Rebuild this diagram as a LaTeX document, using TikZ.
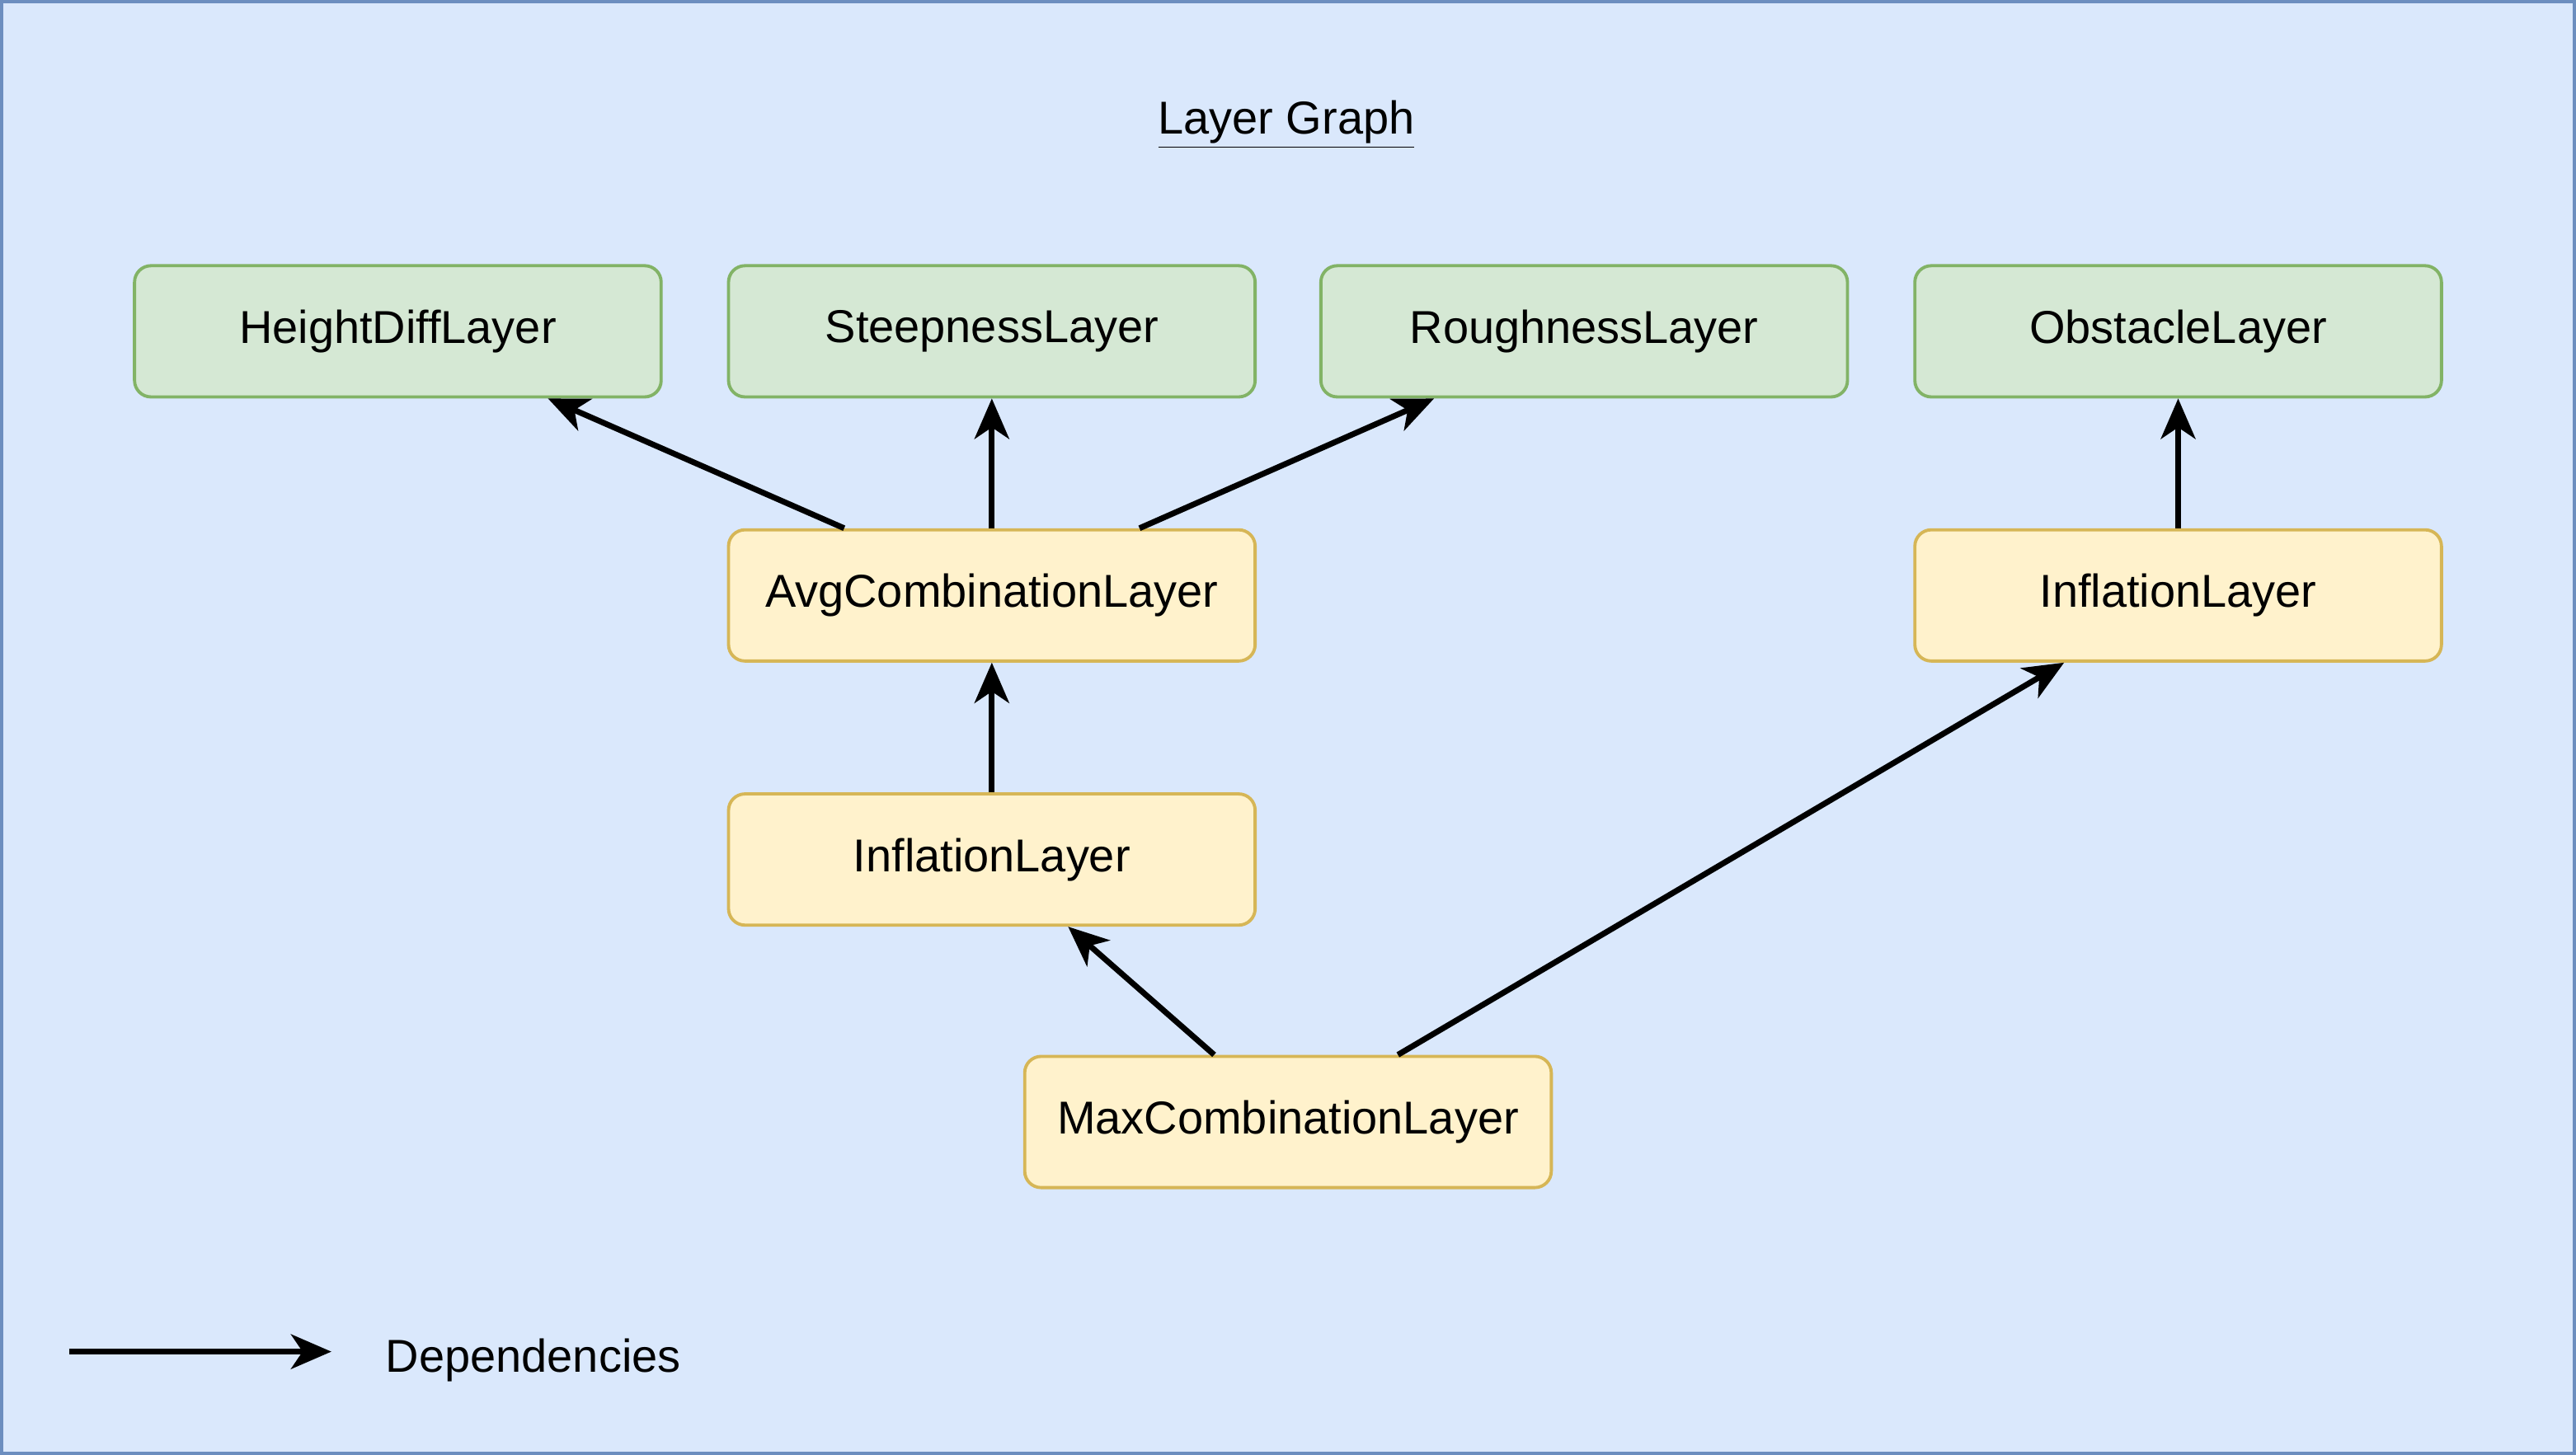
\documentclass[tikz,border=0pt]{standalone}
\usepackage{fontspec}
\setmainfont{Liberation Sans}
\usetikzlibrary{arrows.meta,calc}
\definecolor{bgfill}{HTML}{DAE8FC}
\definecolor{bgline}{HTML}{6C8EBF}
\definecolor{gfill}{HTML}{D5E8D4}
\definecolor{gline}{HTML}{82B366}
\definecolor{yfill}{HTML}{FFF2CC}
\definecolor{yline}{HTML}{D6B656}
\tikzset{
  txt/.style={font=\fontsize{16}{19}\selectfont},
  layer/.style={draw,line width=1.1pt,rounded corners=0.2cm,minimum width=6.42cm,minimum height=1.6cm,txt},
  base/.style={layer,fill=gfill,draw=gline},
  derived/.style={layer,fill=yfill,draw=yline},
  dep/.style={line width=2pt,-{Stealth[length=14pt,width=12pt,inset=4pt]}}
}
\begin{document}
\begin{tikzpicture}[x=0.02cm,y=-0.02cm]
\draw[fill=bgfill,draw=bgline,line width=1.1pt] (0,0) rectangle (1568,885);
\node[txt] (title) at (783,75) {\underline{Layer Graph}};

\node[base] (height) at (241.5,201) {HeightDiffLayer};
\node[base] (steep) at (603.5,201) {SteepnessLayer};
\node[base] (rough) at (964.5,201) {RoughnessLayer};
\node[base] (obst) at (1326.5,201) {ObstacleLayer};
\node[derived] (avg) at (603.5,362) {AvgCombinationLayer};
\node[derived] (inflR) at (1326.5,362) {InflationLayer};
\node[derived] (inflL) at (603.5,523) {InflationLayer};
\node[derived] (max) at (784,683) {MaxCombinationLayer};

\draw[dep] ($(avg.north)+(-90,0)$) -- ($(height.south)+(91.5,0)$);
\draw[dep] (avg.north) -- (steep.south);
\draw[dep] ($(avg.north)+(90,0)$) -- ($(rough.south)+(-91.5,0)$);
\draw[dep] (inflR.north) -- (obst.south);
\draw[dep] (inflL.north) -- (avg.south);
\draw[dep] ($(max.north)+(-45,0)$) -- ($(inflL.south)+(46.5,0)$);
\draw[dep] ($(max.north)+(67,0)$) -- ($(inflR.south)+(-69.5,0)$);

% legend
\coordinate (legA) at (41,823);
\coordinate (legB) at (201,823);
\draw[dep] (legA) -- (legB);
\node[anchor=west,txt] (legtext) at (228,828) {Dependencies};
\end{tikzpicture}
\end{document}
